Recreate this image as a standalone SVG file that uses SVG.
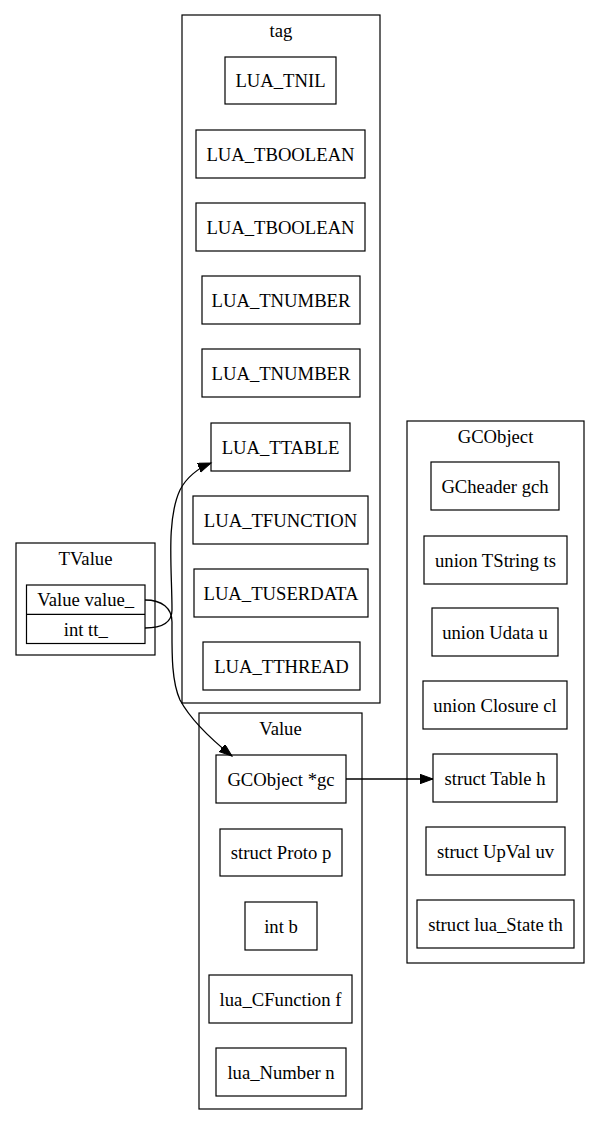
<svg xmlns="http://www.w3.org/2000/svg" width="600" height="1125" viewBox="0 0 600 1125">
<style>
.c{fill:none;stroke:#000;stroke-width:1.2}
.n{fill:#fff;stroke:#000;stroke-width:1.2}
text{font-family:"Liberation Serif","Times New Roman",serif;font-size:18.67px;text-anchor:middle;fill:#000}
.e{fill:none;stroke:#000;stroke-width:1.3}
</style>
<defs>
<marker id="ah" markerUnits="userSpaceOnUse" markerWidth="16" markerHeight="12" refX="13" refY="4.7" orient="auto">
<path d="M0,0 L13,4.7 L0,9.4 Z" fill="#000" stroke="#000"/>
</marker>
</defs>
<rect width="600" height="1125" fill="#fff"/>
<g id="cluster_tag">
<rect class="c" x="182" y="15" width="198" height="688"/>
<text x="281" y="37">tag</text>
</g>
<g id="tnil"><rect class="n" x="225" y="57" width="111" height="47"/><text x="280.5" y="87">LUA_TNIL</text></g>
<g id="tboolean1"><rect class="n" x="196" y="130" width="169" height="48"/><text x="280.5" y="160.5">LUA_TBOOLEAN</text></g>
<g id="tboolean2"><rect class="n" x="196" y="203" width="169" height="48"/><text x="280.5" y="233.5">LUA_TBOOLEAN</text></g>
<g id="tnumber1"><rect class="n" x="202" y="276" width="158" height="48"/><text x="281" y="306.5">LUA_TNUMBER</text></g>
<g id="tnumber2"><rect class="n" x="202" y="349" width="158" height="48"/><text x="281" y="379.5">LUA_TNUMBER</text></g>
<g id="ttable"><rect class="n" x="211" y="423" width="139" height="48"/><text x="280.5" y="453.5">LUA_TTABLE</text></g>
<g id="tfunction"><rect class="n" x="193" y="496" width="175" height="48"/><text x="280.5" y="526.5">LUA_TFUNCTION</text></g>
<g id="tuserdata"><rect class="n" x="194" y="569" width="174" height="48"/><text x="281" y="599.5">LUA_TUSERDATA</text></g>
<g id="tthread"><rect class="n" x="203" y="642" width="157" height="48"/><text x="281.5" y="672.5">LUA_TTHREAD</text></g>

<g id="cluster_TValue">
<rect class="c" x="16" y="543" width="139" height="112"/>
<text x="85.5" y="565">TValue</text>
</g>
<g id="tvalue_rec">
<rect class="n" x="26.5" y="585" width="118.5" height="58.5"/>
<line class="c" x1="26.5" y1="614.3" x2="145" y2="614.3"/>
<text x="85.75" y="606">Value value_</text>
<text x="85.75" y="635.5">int tt_</text>
</g>

<g id="cluster_Value">
<rect class="c" x="199" y="713" width="163" height="396"/>
<text x="280.5" y="735">Value</text>
</g>
<g id="gc"><rect class="n" x="216" y="755" width="130" height="48"/><text x="281" y="785.5">GCObject *gc</text></g>
<g id="proto"><rect class="n" x="220" y="829" width="122" height="47"/><text x="281" y="859">struct Proto p</text></g>
<g id="intb"><rect class="n" x="245" y="902" width="72" height="48"/><text x="281" y="932.5">int b</text></g>
<g id="cfunc"><rect class="n" x="209" y="975" width="143" height="48"/><text x="280.5" y="1005.5">lua_CFunction f</text></g>
<g id="number"><rect class="n" x="216" y="1048" width="130" height="48"/><text x="281" y="1078.5">lua_Number n</text></g>

<g id="cluster_GCObject">
<rect class="c" x="407" y="421" width="177" height="542"/>
<text x="495.5" y="443">GCObject</text>
</g>
<g id="gch"><rect class="n" x="431" y="462" width="128" height="48"/><text x="495" y="492.5">GCheader gch</text></g>
<g id="ts"><rect class="n" x="424" y="536" width="143" height="48"/><text x="495.5" y="566.5">union TString ts</text></g>
<g id="udata"><rect class="n" x="432" y="608" width="126" height="48"/><text x="495" y="638.5">union Udata u</text></g>
<g id="closure"><rect class="n" x="423" y="681" width="144" height="48"/><text x="495" y="711.5">union Closure cl</text></g>
<g id="table"><rect class="n" x="433" y="754" width="124" height="48"/><text x="495" y="784.5">struct Table h</text></g>
<g id="upval"><rect class="n" x="426" y="827" width="139" height="48"/><text x="495.5" y="857.5">struct UpVal uv</text></g>
<g id="luastate"><rect class="n" x="417" y="900" width="157" height="48"/><text x="495.5" y="930.5">struct lua_State th</text></g>

<g id="edges">
<path class="e" d="M145,628 C162,628 172,622 172,610 C172,570 166,520 180,490 C186,478 198,468 211,463" marker-end="url(#ah)"/>
<path class="e" d="M145,600 C162,600 172,608 172,622 C172,650 171,680 180,700 C192,722 212,740 232,756" marker-end="url(#ah)"/>
<path class="e" d="M346,779 L433,779" marker-end="url(#ah)"/>
</g>
</svg>
